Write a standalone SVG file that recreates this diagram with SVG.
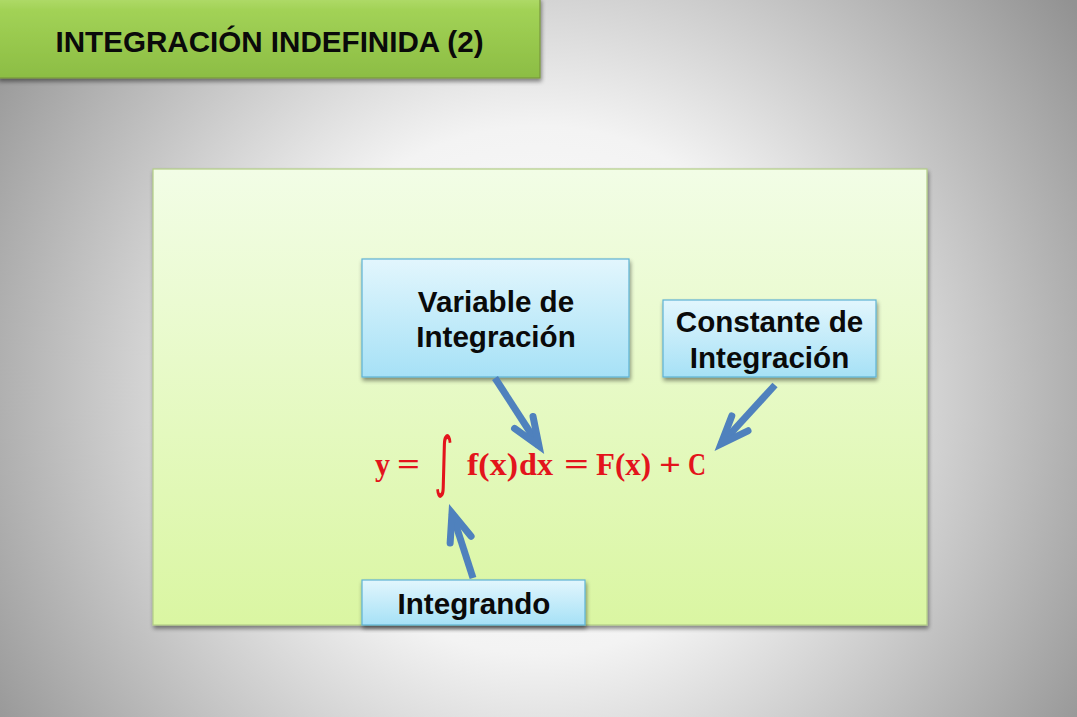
<svg xmlns="http://www.w3.org/2000/svg" width="1077" height="717" viewBox="0 0 1077 717">
  <defs>
    <radialGradient id="bg" gradientUnits="userSpaceOnUse" cx="538" cy="390" r="660">
      <stop offset="0" stop-color="#ffffff"/>
      <stop offset="0.4" stop-color="#f3f3f3"/>
      <stop offset="1" stop-color="#929292"/>
    </radialGradient>
    <linearGradient id="titleG" x1="0" y1="0" x2="0" y2="1">
      <stop offset="0" stop-color="#b0db6a"/>
      <stop offset="0.15" stop-color="#a2d256"/>
      <stop offset="1" stop-color="#8cbd44"/>
    </linearGradient>
    <linearGradient id="panelG" x1="0" y1="0" x2="0" y2="1">
      <stop offset="0" stop-color="#f2fde6"/>
      <stop offset="1" stop-color="#daf6a2"/>
    </linearGradient>
    <linearGradient id="boxG" x1="0" y1="0" x2="0" y2="1">
      <stop offset="0" stop-color="#e2f6fd"/>
      <stop offset="1" stop-color="#a6e1f6"/>
    </linearGradient>
    <filter id="shadow" x="-10%" y="-10%" width="120%" height="130%">
      <feGaussianBlur in="SourceAlpha" stdDeviation="2"/>
      <feOffset dx="1" dy="3" result="b"/>
      <feComponentTransfer><feFuncA type="linear" slope="0.45"/></feComponentTransfer>
      <feMerge><feMergeNode/><feMergeNode in="SourceGraphic"/></feMerge>
    </filter>
    <marker id="vhead" markerUnits="userSpaceOnUse" orient="auto" refX="0" refY="0" markerWidth="40" markerHeight="40" viewBox="-34 -17 40 34" overflow="visible">
      <path d="M -28,-11 L 0,0 L -28,11" fill="none" stroke="#4f81bd" stroke-width="7" stroke-linecap="round" stroke-linejoin="miter"/>
    </marker>
  </defs>
  <style>
    .lbl { font-family: "Liberation Sans", Arial, sans-serif; font-weight: bold; font-size: 29.6px; fill: #0a0a0a; text-anchor: middle; }
    .box { fill: url(#boxG); stroke: #5eb2d4; stroke-width: 1.2; filter: url(#shadow); }
    .eq { font-family: "Liberation Serif", "Times New Roman", serif; font-weight: bold; font-size: 32px; fill: #e3141c; }
    .arrow { fill: none; stroke: #4f81bd; stroke-width: 7; marker-end: url(#vhead); }
  </style>

  <rect x="0" y="0" width="1077" height="717" fill="url(#bg)"/>

  <g id="title">
    <rect x="-2" y="-2" width="542" height="80" fill="url(#titleG)" stroke="#78963c" stroke-width="1.2" filter="url(#shadow)"/>
    <text class="lbl" x="269.5" y="52">INTEGRACIÓN INDEFINIDA (2)</text>
  </g>

  <g id="panel">
    <rect x="153" y="169" width="774" height="456" fill="url(#panelG)" stroke="#b2cd86" stroke-width="1.2" filter="url(#shadow)"/>
  </g>

  <g id="variable">
    <rect class="box" x="362" y="259" width="267" height="118"/>
    <text class="lbl" x="496" y="312">Variable de</text>
    <text class="lbl" x="496" y="347">Integración</text>
  </g>

  <g id="constante">
    <rect class="box" x="663" y="300" width="213" height="77"/>
    <text class="lbl" x="769.5" y="332">Constante de</text>
    <text class="lbl" x="769.5" y="368">Integración</text>
  </g>

  <g id="integrando">
    <rect class="box" x="362" y="580" width="223" height="45"/>
    <text class="lbl" x="474" y="614">Integrando</text>
  </g>

  <g id="equation">
    <text class="eq" x="375" y="475" textLength="15" lengthAdjust="spacingAndGlyphs">y</text>
    <text class="eq" x="397" y="475" textLength="23" lengthAdjust="spacingAndGlyphs">=</text>
    <text class="eq" x="467" y="475" textLength="51" lengthAdjust="spacingAndGlyphs">f(x)</text>
    <text class="eq" x="519" y="475" textLength="34" lengthAdjust="spacingAndGlyphs">dx</text>
    <text class="eq" x="564" y="475" textLength="25" lengthAdjust="spacingAndGlyphs">=</text>
    <text class="eq" x="596" y="475" textLength="55" lengthAdjust="spacingAndGlyphs">F(x)</text>
    <text class="eq" x="659" y="475" textLength="22" lengthAdjust="spacingAndGlyphs">+</text>
    <text class="eq" x="688" y="475" textLength="18" lengthAdjust="spacingAndGlyphs">C</text>
    <text transform="translate(434,484) scale(0.75,1.32)" font-family="DejaVu Sans, sans-serif" font-weight="normal" font-size="50" fill="#e3141c">∫</text>
  </g>

  <g id="connectors">
    <line class="arrow" x1="495" y1="378" x2="539" y2="446"/>
    <line class="arrow" x1="775" y1="385" x2="721" y2="444"/>
    <line class="arrow" x1="473" y1="578" x2="452" y2="513"/>
  </g>
</svg>
